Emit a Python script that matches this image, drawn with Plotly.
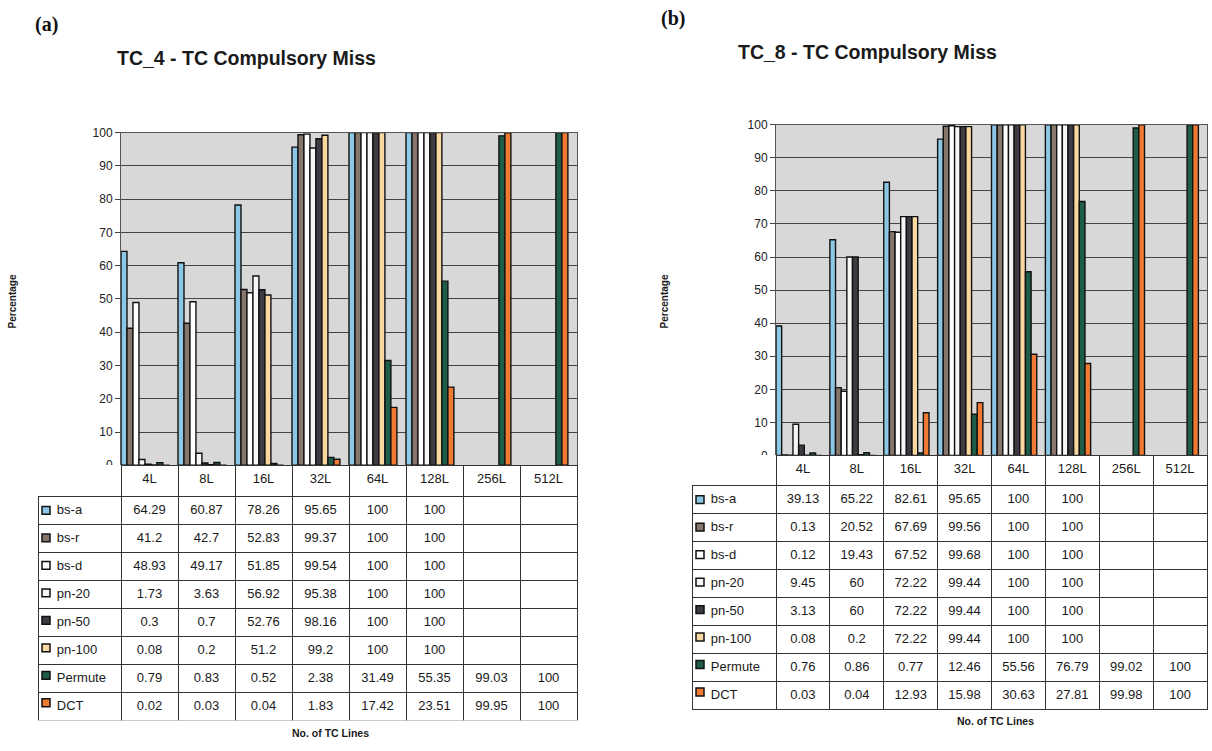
import plotly.graph_objects as go

W, H = 1212, 751

categories = ["4L", "8L", "16L", "32L", "64L", "128L", "256L", "512L"]
series_names = ["bs-a", "bs-r", "bs-d", "pn-20", "pn-50", "pn-100", "Permute", "DCT"]
series_colors = ["#8cc8e6", "#86766c", "#ffffff", "#f6f6f6", "#3e3c42", "#f8d8a0", "#1e5e48", "#f07a32"]

# TC_4 miss percentages (None = not measured)
tc4_bs_a = [64.29, 60.87, 78.26, 95.65, 100, 100, None, None]
tc4_bs_r = [41.2, 42.7, 52.83, 99.37, 100, 100, None, None]
tc4_bs_d = [48.93, 49.17, 51.85, 99.54, 100, 100, None, None]
tc4_pn_20 = [1.73, 3.63, 56.92, 95.38, 100, 100, None, None]
tc4_pn_50 = [0.3, 0.7, 52.76, 98.16, 100, 100, None, None]
tc4_pn_100 = [0.08, 0.2, 51.2, 99.2, 100, 100, None, None]
tc4_permute = [0.79, 0.83, 0.52, 2.38, 31.49, 55.35, 99.03, 100]
tc4_dct = [0.02, 0.03, 0.04, 1.83, 17.42, 23.51, 99.95, 100]

# TC_8 miss percentages
tc8_bs_a = [39.13, 65.22, 82.61, 95.65, 100, 100, None, None]
tc8_bs_r = [0.13, 20.52, 67.69, 99.56, 100, 100, None, None]
tc8_bs_d = [0.12, 19.43, 67.52, 99.68, 100, 100, None, None]
tc8_pn_20 = [9.45, 60, 72.22, 99.44, 100, 100, None, None]
tc8_pn_50 = [3.13, 60, 72.22, 99.44, 100, 100, None, None]
tc8_pn_100 = [0.08, 0.2, 72.22, 99.44, 100, 100, None, None]
tc8_permute = [0.76, 0.86, 0.77, 12.46, 55.56, 76.79, 99.02, 100]
tc8_dct = [0.03, 0.04, 12.93, 15.98, 30.63, 27.81, 99.98, 100]

tc4 = [tc4_bs_a, tc4_bs_r, tc4_bs_d, tc4_pn_20, tc4_pn_50, tc4_pn_100, tc4_permute, tc4_dct]
tc8 = [tc8_bs_a, tc8_bs_r, tc8_bs_d, tc8_pn_20, tc8_pn_50, tc8_pn_100, tc8_permute, tc8_dct]

y_ticks = [0, 10, 20, 30, 40, 50, 60, 70, 80, 90, 100]

FONT = "Liberation Sans, Arial, sans-serif"


def px(x):
    return x / W


def py(y):
    return 1 - y / H


def fmt(v):
    return "" if v is None else f"{v:g}"


# pixel geometry of each panel
panels = [
    dict(data=tc4, title="TC_4 - TC Compulsory Miss", tag="(a)",
         plot_l=121, plot_r=577, plot_t=128, plot_b=467,
         tab_l=38, tab_b=723, head_h=31, row_h=28,
         title_xy=(246, 52), tag_xy=(46, 18), ylab_xy=(12, 300), xlab_xy=(330, 740)),
    dict(data=tc8, title="TC_8 - TC Compulsory Miss", tag="(b)",
         plot_l=776, plot_r=1207, plot_t=120, plot_b=457,
         tab_l=692, tab_b=713, head_h=30, row_h=28,
         title_xy=(867, 46), tag_xy=(673, 12), ylab_xy=(664, 300), xlab_xy=(995, 728)),
]

fig = go.Figure()
annotations = []
shapes = []

for i, p in enumerate(panels):
    xa = "x" if i == 0 else f"x{i + 1}"
    ya = "y" if i == 0 else f"y{i + 1}"
    for name, color, vals in zip(series_names, series_colors, p["data"]):
        fig.add_trace(go.Bar(
            x=categories, y=vals, name=name, xaxis=xa, yaxis=ya,
            marker=dict(color=color, line=dict(color="#111111", width=1.4)),
            showlegend=False,
        ))

    axis_x = dict(
        domain=[px(p["plot_l"]), px(p["plot_r"])],
        type="category", range=[-0.42, 7.58], showticklabels=False,
        ticks="", showgrid=False, showline=True, mirror=True,
        linecolor="#555555", linewidth=1, anchor=ya, fixedrange=True,
    )
    axis_y = dict(
        domain=[py(p["plot_b"]), py(p["plot_t"])],
        range=[0, 100], tickvals=y_ticks, ticks="outside", ticklen=5,
        tickcolor="#444444", showline=True, mirror=True, linecolor="#555555",
        linewidth=1, showgrid=True, gridcolor="#444444", gridwidth=1.2,
        zeroline=False, tickfont=dict(family=FONT, size=12, color="#222222"),
        anchor=xa, fixedrange=True,
    )
    key = "" if i == 0 else str(i + 1)
    fig.layout["xaxis" + key] = axis_x
    fig.layout["yaxis" + key] = axis_y

    # data table beneath the plot
    col_w = (p["plot_r"] - p["plot_l"]) / len(categories)
    label_w = p["plot_l"] - p["tab_l"]
    header_vals = [""] + categories
    label_col = ["\u00a0\u00a0\u00a0" + n for n in series_names]
    value_cols = [[fmt(s[c]) for s in p["data"]] for c in range(len(categories))]
    fig.add_trace(go.Table(
        domain=dict(x=[px(p["tab_l"]), px(p["plot_r"])],
                    y=[py(p["tab_b"] + 4), py(p["plot_b"])]),
        columnwidth=[label_w] + [col_w] * len(categories),
        header=dict(
            values=header_vals, height=p["head_h"], align="center",
            fill=dict(color="white"),
            line=dict(color=["rgba(0,0,0,0)"] + ["#333333"] * len(categories), width=1),
            font=dict(family=FONT, size=13, color="#1a1a1a"),
        ),
        cells=dict(
            values=[label_col] + value_cols, height=p["row_h"],
            align=["left"] + ["center"] * len(categories),
            fill=dict(color="white"),
            line=dict(color="#333333", width=1),
            font=dict(family=FONT, size=13, color="#1a1a1a"),
        ),
    ))

    # legend keys inside the label column
    for r, color in enumerate(series_colors):
        top = p["plot_b"] + p["head_h"] + r * p["row_h"]
        cy = top + p["row_h"] / 2 + 1
        shapes.append(dict(
            type="rect", xref="paper", yref="paper", layer="above",
            x0=px(p["tab_l"] + 4), x1=px(p["tab_l"] + 12),
            y0=py(cy + 4), y1=py(cy - 4),
            fillcolor=color, line=dict(color="#111111", width=1.5),
        ))

    annotations += [
        dict(text=f"<b>{p['title']}</b>", x=px(p["title_xy"][0]), y=py(p["title_xy"][1]),
             xref="paper", yref="paper", showarrow=False, xanchor="center", yanchor="middle",
             font=dict(family=FONT, size=19.5, color="#1a1a1a")),
        dict(text=f"<b>{p['tag']}</b>", x=px(p["tag_xy"][0]), y=py(p["tag_xy"][1]),
             xref="paper", yref="paper", showarrow=False, xanchor="center", yanchor="middle",
             font=dict(family="Liberation Serif, Times New Roman, serif", size=20, color="#111111")),
        dict(text="<b>Percentage</b>", x=px(p["ylab_xy"][0]), y=py(p["ylab_xy"][1]),
             xref="paper", yref="paper", showarrow=False, textangle=-90,
             xanchor="center", yanchor="middle",
             font=dict(family=FONT, size=10, color="#1a1a1a")),
        dict(text="<b>No. of TC Lines</b>", x=px(p["xlab_xy"][0]), y=py(p["xlab_xy"][1]),
             xref="paper", yref="paper", showarrow=False, xanchor="center", yanchor="middle",
             font=dict(family=FONT, size=10.5, color="#1a1a1a")),
    ]

fig.update_layout(
    width=W, height=H, margin=dict(l=0, r=0, t=0, b=0),
    paper_bgcolor="white", plot_bgcolor="#d8d8d8",
    barmode="group", bargap=0.16, bargroupgap=0,
    annotations=annotations, shapes=shapes,
    font=dict(family=FONT),
)

fig.write_html("out.html")
